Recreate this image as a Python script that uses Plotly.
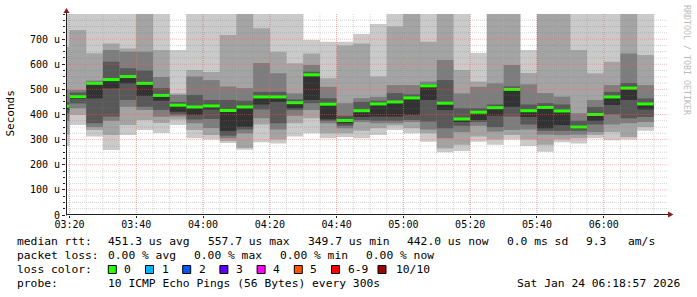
import plotly.graph_objects as go
import pandas as pd

DAY = "2026-01-24"

# ---- data (values in microseconds) ----
bar_start = ["03:15", "03:20", "03:25", "03:30", "03:35", "03:40", "03:45", "03:50", "03:55",
             "04:00", "04:05", "04:10", "04:15", "04:20", "04:25", "04:30", "04:35", "04:40",
             "04:45", "04:50", "04:55", "05:00", "05:05", "05:10", "05:15", "05:20", "05:25",
             "05:30", "05:35", "05:40", "05:45", "05:50", "05:55", "06:00", "06:05", "06:10"]

median_rtt = [433, 471, 524, 539, 551, 524, 476, 437, 430, 434, 416, 430, 470, 470, 447, 558, 441, 376,
              415, 442, 450, 466, 514, 445, 382, 409, 427, 500, 415, 428, 414, 350, 400, 470, 505, 442]

ping01 = [275, 358, 312, 259, 318, 338, 326, 358, 305, 300, 287, 260, 290, 285, 312, 325, 305, 310,
          305, 318, 338, 325, 292, 250, 255, 292, 280, 300, 275, 252, 290, 285, 305, 298, 300, 335]
ping02 = [320, 398, 338, 318, 358, 378, 366, 380, 338, 318, 295, 267, 360, 300, 365, 385, 325, 325,
          335, 345, 356, 345, 325, 265, 280, 312, 300, 318, 300, 280, 300, 305, 318, 330, 310, 350]
ping03 = [375, 425, 350, 375, 431, 418, 391, 393, 365, 346, 305, 325, 385, 340, 395, 418, 365, 345,
          370, 365, 365, 370, 340, 305, 330, 355, 332, 338, 340, 320, 318, 320, 330, 360, 365, 370]
ping04 = [405, 444, 365, 392, 458, 431, 418, 400, 380, 382, 316, 340, 420, 365, 418, 445, 375, 355,
          378, 375, 375, 378, 372, 345, 355, 370, 350, 392, 360, 335, 335, 335, 360, 400, 385, 390]
ping05 = [420, 462, 464, 504, 524, 474, 455, 411, 398, 420, 335, 351, 440, 450, 425, 458, 381, 365,
          390, 392, 392, 398, 458, 418, 370, 378, 395, 431, 390, 345, 358, 345, 375, 438, 458, 420]
ping06 = median_rtt
ping07 = [450, 488, 530, 610, 584, 575, 505, 450, 478, 458, 458, 455, 490, 490, 460, 570, 465, 395,
          450, 455, 485, 480, 520, 537, 425, 425, 440, 512, 440, 445, 440, 375, 430, 490, 525, 464]
ping08 = [500, 498, 535, 657, 650, 650, 549, 478, 551, 537, 511, 505, 605, 564, 484, 597, 510, 445,
          465, 470, 517, 517, 531, 617, 484, 510, 524, 597, 520, 485, 471, 405, 458, 517, 643, 517]
ping09 = [670, 736, 644, 683, 663, 900, 657, 484, 577, 569, 716, 900, 743, 650, 604, 643, 544, 675,
          683, 551, 750, 900, 690, 900, 577, 531, 900, 900, 565, 900, 900, 657, 564, 610, 900, 637]
ping10 = [900, 900, 900, 900, 900, 900, 900, 657, 900, 900, 900, 900, 900, 900, 900, 697, 690, 690,
          720, 760, 900, 900, 900, 900, 900, 645, 900, 900, 657, 900, 900, 900, 900, 900, 900, 900]

x_tick_labels = ["03:20", "03:40", "04:00", "04:20", "04:40", "05:00", "05:20", "05:40", "06:00"]
y_tick_values = [0, 100, 200, 300, 400, 500, 600, 700]
y_tick_labels = ["0", "100 u", "200 u", "300 u", "400 u", "500 u", "600 u", "700 u"]

legend_line1 = ["median rtt:", "451.3 us avg", "557.7 us max", "349.7 us min", "442.0 us now",
                "0.0 ms sd", "9.3", "am/s"]
legend_line2 = ["packet loss:", "0.00 % avg", "0.00 % max", "0.00 % min", "0.00 % now"]
loss_labels = ["0", "1", "2", "3", "4", "5", "6-9", "10/10"]
loss_colors = ["#26ff00", "#00b8ff", "#0059ff", "#5e00ff", "#ff00ff", "#ff5500", "#ff0000", "#a10000"]
probe_text = "10 ICMP Echo Pings (56 Bytes) every 300s"
date_text = "Sat Jan 24 06:18:57 2026"

# ---- geometry helpers (pixels -> paper) ----
PL, PR, PT, PB = 66, 667, 14, 215
W, H = 697, 297


def fx(px):
    return (px - PL) / (PR - PL)


def fy(py):
    return (PB - py) / (PB - PT)


xs = [f"{DAY} {t}:00" for t in bar_start]
STEP_MS = 300000

fig = go.Figure()
bands = [(ping01, ping10, "#cacaca"), (ping02, ping09, "#a4a4a4"), (ping03, ping08, "#7e7e7e"),
         (ping04, ping07, "#585858"), (ping05, ping06, "#323232")]
for lo, hi, col in bands:
    fig.add_trace(go.Bar(x=xs, y=[h - l for l, h in zip(lo, hi)], base=lo, width=STEP_MS, offset=0,
                         marker=dict(color=col, line=dict(width=0)), hoverinfo="skip"))

MED_HALF = 6
fig.add_trace(go.Bar(x=xs, y=[2 * MED_HALF] * len(median_rtt), base=[m - MED_HALF for m in median_rtt],
                     width=STEP_MS, offset=0, marker=dict(color="#26ff00", line=dict(width=0)),
                     hoverinfo="skip"))

shapes = []
minor_col = "rgba(120,120,120,0.3)"
major_col = "rgba(255,90,90,0.4)"
# vertical minor grid every 5 min
for t in pd.date_range(f"{DAY} 03:20", f"{DAY} 06:15", freq="5min"):
    shapes.append(dict(type="line", xref="x", yref="paper", x0=t, x1=t, y0=0, y1=1, layer="above",
                       line=dict(color=minor_col, width=1, dash="1px,1px")))
for v in range(25, 800, 25):
    if v % 100:
        shapes.append(dict(type="line", xref="paper", yref="y", x0=0, x1=1, y0=v, y1=v, layer="above",
                           line=dict(color=minor_col, width=1, dash="1px,1px")))
for t in x_tick_labels:
    shapes.append(dict(type="line", xref="x", yref="paper", x0=f"{DAY} {t}:00", x1=f"{DAY} {t}:00",
                       y0=0, y1=1, layer="above", line=dict(color=major_col, width=1, dash="1px,1px")))
for v in y_tick_values[1:]:
    shapes.append(dict(type="line", xref="paper", yref="y", x0=0, x1=1, y0=v, y1=v, layer="above",
                       line=dict(color=major_col, width=1, dash="1px,1px")))

# axes lines with arrows
axis_col = "#1f1f1f"
arrow_col = "#8b1a1a"
shapes.append(dict(type="line", xref="paper", yref="paper", x0=fx(66.5), x1=fx(66.5), y0=fy(215.5), y1=fy(10),
                   layer="above", line=dict(color=axis_col, width=1)))
shapes.append(dict(type="line", xref="paper", yref="paper", x0=fx(66), x1=fx(669), y0=fy(214.5), y1=fy(214.5),
                   layer="above", line=dict(color=axis_col, width=1)))
shapes.append(dict(type="path", xref="paper", yref="paper", layer="above",
                   path=f"M {fx(63.5)} {fy(13)} L {fx(66.5)} {fy(8)} L {fx(69.5)} {fy(13)} Z",
                   fillcolor=arrow_col, line=dict(width=0)))
shapes.append(dict(type="path", xref="paper", yref="paper", layer="above",
                   path=f"M {fx(668)} {fy(211.5)} L {fx(673.5)} {fy(214.5)} L {fx(668)} {fy(217.5)} Z",
                   fillcolor=arrow_col, line=dict(width=0)))

# loss colour squares
sq_x = [108.3, 145.5, 182.7, 219.9, 257.1, 294.3, 331.5, 378.0]
for sx, col in zip(sq_x, loss_colors):
    shapes.append(dict(type="rect", xref="paper", yref="paper", x0=fx(sx), x1=fx(sx + 8),
                       y0=fy(273.5), y1=fy(265.5), fillcolor=col, line=dict(color="black", width=1)))

ann = []
LF = dict(family="DejaVu Sans Mono", size=11.3, color="black")


def txt(s, px, py, anchor="left", font=LF, angle=0):
    ann.append(dict(text=s, xref="paper", yref="paper", x=fx(px), y=fy(py), xanchor=anchor,
                    yanchor="middle", showarrow=False, font=font, borderpad=0, textangle=angle))


L1, L2, L3, L4 = 241.0, 255.0, 269.0, 283.1
for s, px in zip(legend_line1, [16, 107.3, 207, 306.6, 406.2, 505.8, 585, 627]):
    txt(s, px, L1)
for s, px in zip(legend_line2, [16, 107.3, 193.3, 278.7, 365.3]):
    txt(s, px, L2)
txt("loss color:", 16, L3)
for s, px in zip(loss_labels, [123.3, 160.5, 197.7, 234.9, 272.1, 309.3, 346.5, 395.3]):
    txt(s, px, L3)
txt("probe:", 16, L4)
txt(probe_text, 107.3, L4)
txt(date_text, 680.7, L4, anchor="right")
txt("Seconds", 10.5, 114, anchor="center", font=dict(family="DejaVu Sans Mono", size=11, color="black"),
    angle=-90)
txt("RRDTOOL / TOBI OETIKER", 687, 60, anchor="center",
    font=dict(family="DejaVu Sans Mono", size=8.3, color="#bbbbbb"), angle=90)

fig.update_layout(
    width=W, height=H, margin=dict(l=PL, r=W - PR, t=PT, b=H - PB, pad=0),
    paper_bgcolor="white", plot_bgcolor="white", showlegend=False, barmode="overlay",
    font=dict(family="DejaVu Sans Mono", size=10, color="black"),
    shapes=shapes, annotations=ann,
)
fig.update_xaxes(type="date", range=[f"{DAY} 03:18:57", f"{DAY} 06:18:57"],
                 tickvals=[f"{DAY} {t}:00" for t in x_tick_labels], ticktext=x_tick_labels,
                 showgrid=False, zeroline=False, showline=False, ticks="outside", ticklen=2,
                 ticklabelstandoff=-2,
                 tickcolor=axis_col, tickfont=dict(family="DejaVu Sans Mono", size=10, color="black"),
                 fixedrange=True)
fig.update_yaxes(range=[0, 800], tickvals=y_tick_values, ticktext=y_tick_labels, showgrid=False,
                 zeroline=False, showline=False, ticks="outside", ticklen=3, tickcolor=axis_col,
                 minor=dict(dtick=25, ticks="outside", ticklen=2, tickcolor=axis_col, showgrid=False),
                 tickfont=dict(family="DejaVu Sans Mono", size=10, color="black"), fixedrange=True)

fig.write_html("out.html")
